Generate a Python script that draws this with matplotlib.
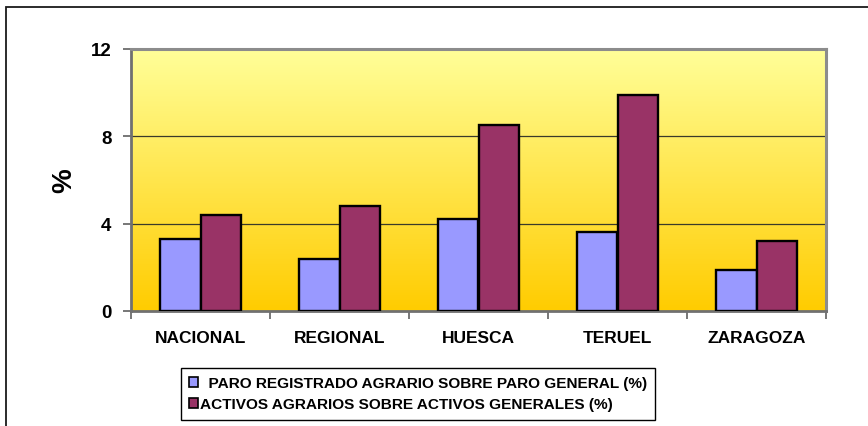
import numpy as np
import matplotlib
matplotlib.use("Agg")
import matplotlib.pyplot as plt
from matplotlib.colors import LinearSegmentedColormap
from matplotlib.patches import Rectangle

# Data
categories = ["NACIONAL", "REGIONAL", "HUESCA", "TERUEL", "ZARAGOZA"]
paro_agrario = [3.3, 2.4, 4.2, 3.6, 1.9]
activos_agrarios = [4.4, 4.8, 8.5, 9.9, 3.2]
series_labels = ["  PARO REGISTRADO AGRARIO SOBRE PARO GENERAL (%)",
                 "ACTIVOS AGRARIOS SOBRE ACTIVOS GENERALES (%)"]
y_ticks = [0, 4, 8, 12]

plt.rcParams["font.family"] = ["Liberation Sans", "DejaVu Sans"]
plt.rcParams["font.weight"] = "bold"

W, H = 868, 427
fig = plt.figure(figsize=(W / 100, H / 100), dpi=100)
fig.patch.set_facecolor("white")

# Outer chart frame (open at right and bottom)
fig.add_artist(Rectangle((6 / W, -0.2), 2.0, 1 - 8 / H + 0.2,
                         transform=fig.transFigure, fill=False,
                         edgecolor="#1a1a1a", linewidth=1.3))

ax = fig.add_axes([131 / W, 1 - 312 / H, (826 - 131) / W, (312 - 50) / H])

# Vertical yellow gradient background
cmap = LinearSegmentedColormap.from_list("bg", ["#FFCC00", "#FFFF99"])
grad = np.linspace(0, 1, 256).reshape(-1, 1)
ax.imshow(grad, aspect="auto", cmap=cmap, origin="lower",
          extent=[0, len(categories), 0, 12], zorder=0)

x = np.arange(len(categories)) + 0.5
bw = 0.288
ax.bar(x - bw / 2, paro_agrario, width=bw, color="#9999FF",
       edgecolor="black", linewidth=1.7, label=series_labels[0], zorder=3)
ax.bar(x + bw / 2, activos_agrarios, width=bw, color="#993366",
       edgecolor="black", linewidth=1.7, label=series_labels[1], zorder=3)

ax.set_xlim(0, len(categories))
ax.set_ylim(0, 12)

# Gridlines
for v in y_ticks[1:-1]:
    ax.axhline(v, color="#3a3a2a", linewidth=0.9, zorder=1)

# Axes and ticks
ax.set_yticks(y_ticks)
ax.set_yticklabels([str(v) for v in y_ticks], fontsize=13.5, fontweight="bold")
ax.set_xticks(np.arange(len(categories) + 1))
ax.set_xticklabels([])
ax.set_xticks(x, minor=True)
ax.set_xticklabels(categories, minor=True, fontsize=12.5, fontweight="bold")
ax.tick_params(axis="x", which="major", length=6, width=1.2, color="#606060", direction="out")
ax.tick_params(axis="x", which="minor", length=0, pad=14)
ax.tick_params(axis="y", length=6, width=1.2, color="#606060", direction="out", pad=8)

for side in ["top", "right"]:
    ax.spines[side].set_color("#8c8c8c")
    ax.spines[side].set_linewidth(2.2)
ax.spines["left"].set_color("#707070")
ax.spines["left"].set_linewidth(2.0)
ax.spines["bottom"].set_color("#707070")
ax.spines["bottom"].set_linewidth(2.0)

ax.set_ylabel("%", fontsize=20, fontweight="bold", labelpad=10)

leg = fig.legend(loc="upper left", bbox_to_anchor=(181 / W, 1 - 369 / H),
                 bbox_transform=fig.transFigure, frameon=True, fancybox=False,
                 edgecolor="black", framealpha=1, handlelength=0.55,
                 handleheight=0.55, handletextpad=0.1, labelspacing=0.45,
                 borderpad=0.55, borderaxespad=0, prop={"size": 11.1, "weight": "bold"})
leg.get_frame().set_linewidth(1.0)
for h in leg.legend_handles:
    h.set_linewidth(1.2)

fig.savefig("out.png", dpi=100)
